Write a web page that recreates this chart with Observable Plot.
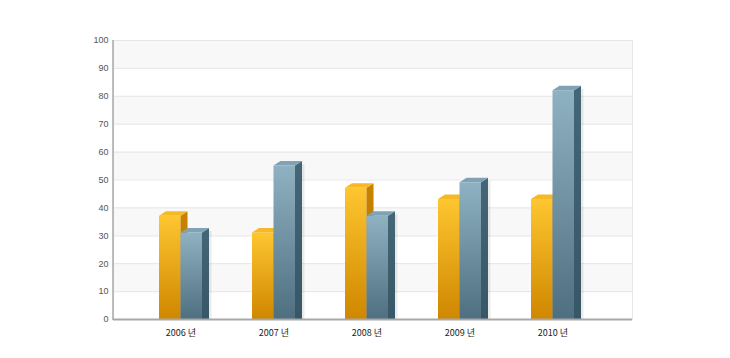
<!DOCTYPE html>
<html><head><meta charset="utf-8">
<script src="https://cdn.jsdelivr.net/npm/d3@7"></script>
<script src="https://cdn.jsdelivr.net/npm/@observablehq/plot@0.6"></script>
<style>
body{margin:0;background:#fff;}
#chart svg{font-family:"Liberation Sans",Arial,sans-serif;}
g[aria-label^="x-axis"] text{font-family:"Noto Sans CJK KR","Liberation Sans",sans-serif;font-size:9px;fill:#222;}
g[aria-label^="y-axis"] text{font-size:9px;fill:#555;}
</style></head>
<body><div id="chart"></div>
<script>
const years = ["2006 년","2007 년","2008 년","2009 년","2010 년"];
const seriesA = [37,31,47,43,43];
const seriesB = [31,55,37,49,82];
const yTicks = [0,10,20,30,40,50,60,70,80,90,100];
const stripeStarts = [10,30,50,70,90];

const rowsA = years.map((year,i)=>({year, value: seriesA[i]}));
const rowsB = years.map((year,i)=>({year, value: seriesB[i]}));
const stripes = stripeStarts.map(v=>({y1:v, y2:v+10}));

const DX = 7, DY = 4.5;

const defs = () => {
  const s = d3.create("svg:defs");
  const mk = (id, c0, c1) => {
    const g = s.append("linearGradient").attr("id", id).attr("x1",0).attr("y1",0).attr("x2",0).attr("y2",1);
    g.append("stop").attr("offset","0%").attr("stop-color",c0);
    g.append("stop").attr("offset","100%").attr("stop-color",c1);
  };
  mk("gA","#fec630","#cf8700");
  mk("gB","#8fb2c3","#4e6f80");
  mk("sA","#c98300","#b06e00");
  mk("sB","#446677","#385766");
  return s.node();
};

function bandOf(x) {
  const b = x.bandwidth;
  return typeof b === "function" ? b() : (b ?? 43);
}

function faces(rows, second, top, side) {
  return (index, scales) => {
    const x = scales.x, y = scales.y;
    const bw = bandOf(x);
    const g = d3.create("svg:g");
    for (const d of rows) {
      const x0 = x(d.year) + (second ? bw/2 : 0);
      const x1 = x0 + bw/2;
      const yt = y(d.value), yb = y(0);
      if (second) {
        g.append("rect").attr("x", x1+DX).attr("y", yt-DY+3).attr("width",2.5).attr("height", yb-yt+DY-3)
          .attr("fill","#000").attr("fill-opacity",0.08);
      }
      g.append("path").attr("d", `M${x1},${yt}L${x1+DX},${yt-DY}L${x1+DX},${yb}L${x1},${yb}Z`).attr("fill", side);
      g.append("path").attr("d", `M${x0},${yt}L${x0+DX},${yt-DY}L${x1+DX},${yt-DY}L${x1},${yt}Z`).attr("fill", top);
    }
    return g.node();
  };
}

const leftLine = (index, scales, values, dims) => {
  const g = d3.create("svg:g");
  g.append("line").attr("x1", dims.marginLeft).attr("x2", dims.marginLeft)
    .attr("y1", dims.marginTop).attr("y2", dims.height - dims.marginBottom + 1)
    .attr("stroke","#a8a8a8").attr("stroke-width",1.5);
  return g.node();
};

const chart = Plot.plot({
  width: 730, height: 358,
  marginLeft: 113, marginRight: 98, marginTop: 40, marginBottom: 39,
  style: {background: "#fff", fontSize: "9px"},
  x: {domain: years, range: [110, 622], paddingInner: 0.54, paddingOuter: 0.5, tickSize: 0, tickPadding: 10, label: null},
  y: {domain: [0,100], ticks: yTicks, tickSize: 0, tickPadding: 5, label: null},
  marks: [
    defs,
    Plot.rect(stripes, {y1:"y1", y2:"y2", fill:"#f8f8f8"}),
    Plot.ruleY(yTicks, {stroke:"#e9e9e9", strokeWidth: 1.2}),
    Plot.frame({stroke:"#e6e6e6"}),
    Plot.barY(rowsA, {x:"year", y:"value", fill:"url(#gA)", insetRight: 21.5}),
    faces(rowsA, false, "#f6b824", "url(#sA)"),
    Plot.barY(rowsB, {x:"year", y:"value", fill:"url(#gB)", insetLeft: 21.5}),
    faces(rowsB, true, "#7fa3b4", "url(#sB)"),
    Plot.ruleY([0], {stroke:"#a8a8a8", strokeWidth: 2}),
    leftLine
  ]
});
document.getElementById("chart").appendChild(chart);
</script>
</body></html>
